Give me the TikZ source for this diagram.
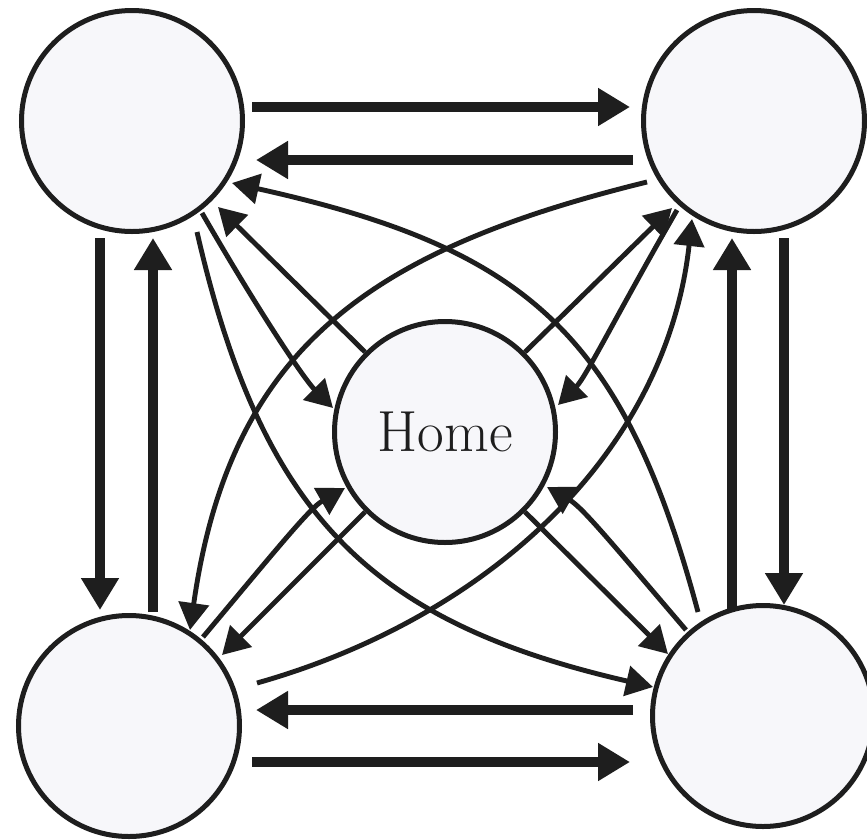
\documentclass[tikz,border=0pt]{standalone}
\usepackage{fontspec}
\usetikzlibrary{arrows.meta,calc}
\definecolor{ink}{RGB}{30,30,30}
\definecolor{disc}{RGB}{247,247,250}
\begin{document}
\begin{tikzpicture}[x=1pt,y=-1pt,
  place/.style={circle,draw=ink,fill=disc,line width=5pt,minimum size=221pt,inner sep=0pt},
  fat/.style={line width=10.5pt,draw=ink,-{Triangle[length=32pt,width=36pt]}},
  link/.style={line width=4.9pt,draw=ink,-{Triangle[length=27pt,width=30pt]}}]
\useasboundingbox[fill=white] (0,0) rectangle (867,839);
\node[place] (TL) at (132,121) {};
\node[place] (TR) at (754,121) {};
\node[place] (BL) at (129,726) {};
\node[place] (BR) at (763,716) {};
\node[place,font=\fontsize{58}{62}\selectfont,text=ink] (H) at (445,432) {Home};
% thick arrows between neighbours
\draw[fat] ($(TL.center)+(120,-14)$) -- ($(TR.center)+(-124,-14)$);
\draw[fat] ($(TR.center)+(-121,39)$) -- ($(TL.center)+(124,39)$);
\draw[fat] ($(TL.center)+(-32,117)$) -- ($(BL.center)+(-29,-116)$);
\draw[fat] ($(BL.center)+(24,-114)$) -- ($(TL.center)+(21,117)$);
\draw[fat] ($(BR.center)+(-31,-106)$) -- ($(TR.center)+(-22,117)$);
\draw[fat] ($(TR.center)+(30,117)$) -- ($(BR.center)+(21,-111)$);
\draw[fat] ($(BR.center)+(-130,-6)$) -- ($(BL.center)+(127,-16)$);
\draw[fat] ($(BL.center)+(123,36)$) -- ($(BR.center)+(-133,46)$);
% diagonal curves between opposite corners
\draw[link] ($(TL.center)+(65,111)$) .. controls (262,515) and (370,622) .. ($(BR.center)+(-110,-29)$);
\draw[link] ($(BR.center)+(-65,-104)$) .. controls (623,332) and (525,248) .. ($(TL.center)+(100,62)$);
\draw[link] ($(TR.center)+(-107,61)$) .. controls (370,250) and (230,348) .. ($(BL.center)+(61,-96)$);
\draw[link] ($(BL.center)+(128,-43)$) .. controls (487,618) and (666,454) .. ($(TR.center)+(-62,98)$);
% corners to Home
\draw[link] ($(TL.center)+(70,92)$) .. controls (262,317) and (305,380) .. ($(H.center)+(-112,-24)$);
\draw[link] ($(TR.center)+(-77,89)$) .. controls (617,314) and (586,377) .. ($(H.center)+(113,-27)$);
\draw[link] ($(BL.center)+(74,-89)$) .. controls (280,545) and (310,508) .. ($(H.center)+(-100,56)$);
\draw[link] ($(BR.center)+(-77,-86)$) .. controls (610,541) and (582,507) .. ($(H.center)+(102,55)$);
% Home to corners
\draw[link] (H.135) -- ($(TL.center)+(86,86)$);
\draw[link] (H.45) -- ($(TR.center)+(-82,87)$);
\draw[link] (H.225) -- ($(BL.center)+(93,-71)$);
\draw[link] (H.-45) -- ($(BR.center)+(-95,-62)$);
\end{tikzpicture}
\end{document}
